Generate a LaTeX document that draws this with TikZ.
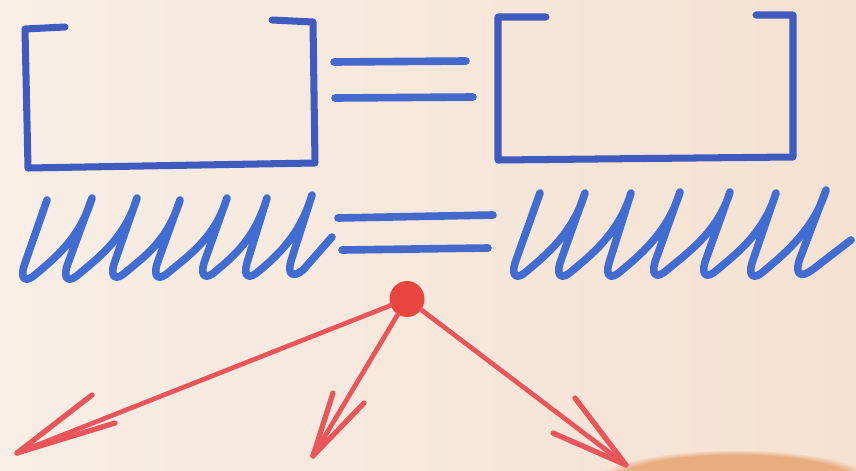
\documentclass[tikz,border=0pt]{standalone}
\usetikzlibrary{fadings,shapes.geometric}
\definecolor{bgL}{HTML}{F8EEE5}
\definecolor{bgM}{HTML}{FDFAF6}
\definecolor{bgR}{HTML}{F5E1D1}
\definecolor{blob}{HTML}{E39A64}
\definecolor{brk}{HTML}{3F5BC0}
\definecolor{cur}{HTML}{416CD2}
\definecolor{eqc}{HTML}{4468CC}
\definecolor{redc}{HTML}{E9555A}
\definecolor{dotc}{HTML}{E8453F}
\tikzset{
  bracket/.style={draw=brk, line width=6pt, line cap=round, line join=round},
  eqline/.style={draw=eqc, line width=6.5pt, line cap=round},
  cursive/.style={draw=cur, line width=6.5pt, line cap=round, line join=round},
  redline/.style={draw=redc, line width=4pt, line cap=round, line join=round},
  barb/.style={draw=redc, line width=4.5pt, line cap=round},
}
% one cursive turn: straight down to bottom (#1,#2), round turn, curved up-stroke to next top (#3,#4)
\newcommand\ubotturn[4]{-- ({#1+4},{#2-14}) .. controls (#1,#2) and ({#1+6},{#2+3}) .. ({#1+16},{#2-6}) .. controls ({#1+35},{#2-22}) and ({#3-12},{#4+40}) .. (#3,#4)}
\begin{document}
\begin{tikzpicture}[x=0.03cm, y=-0.03cm]
\useasboundingbox (0,0) rectangle (856,471);
% background
\shade[left color=bgL, middle color=bgM, right color=bgR] (0,0) rectangle (856,471);
\fill[blob, path fading=circle with fuzzy edge 15 percent, opacity=0.75] (735,482) ellipse (140 and 32);
% left bracket
\draw[bracket] (65,27) -- (25,29) -- (28,168) -- (315,163) -- (313,22) -- (272,20);
% right bracket
\draw[bracket] (546,17) -- (498,17) -- (498,160) -- (793,157) -- (793,15) -- (756,15);
% top equals
\draw[eqline] (334,62) -- (466,61);
\draw[eqline] (335,98) -- (473,97);
% bottom equals
\draw[eqline] (338,218) -- (493,215);
\draw[eqline] (342,250) -- (488,248);
% left cursive
\draw[cursive] (47,200) \ubotturn{20}{280}{92}{198} \ubotturn{63}{280}{137}{198}
  \ubotturn{110}{278}{180}{200} \ubotturn{153}{278}{227}{198} \ubotturn{200}{277}{267}{198}
  \ubotturn{243}{277}{312}{195}
  -- (291,261) .. controls (287,275) and (293,278) .. (303,270) -- (332,237);
% right cursive
\draw[cursive] (540,193) \ubotturn{511}{277}{585}{193} \ubotturn{556}{277}{631}{193}
  \ubotturn{605}{277}{680}{192} \ubotturn{651}{276}{730}{192} \ubotturn{701}{276}{776}{193}
  \ubotturn{748}{277}{826}{190}
  -- (799,261) .. controls (795,275) and (801,278) .. (812,270) -- (851,240);
% red dot
\node[fill=dotc, ellipse, inner sep=0pt, minimum width=1.05cm, minimum height=1.08cm, draw=none] (dot) at (407,299) {};
\coordinate (tL) at (17,453);
\coordinate (tM) at (313,456);
\coordinate (tR) at (626,465);
\draw[redline] (dot) -- (tL);
\draw[redline] (dot) -- (tM);
\draw[redline] (dot) -- (tR);
% arrowheads
\draw[barb] (tL) -- (92,395);
\draw[barb] (tL) -- (115,423);
\draw[barb] (tM) -- (333,393);
\draw[barb] (tM) -- (364,403);
\draw[barb] (tR) -- (575,398);
\draw[barb] (tR) -- (553,433);
\end{tikzpicture}
\end{document}
